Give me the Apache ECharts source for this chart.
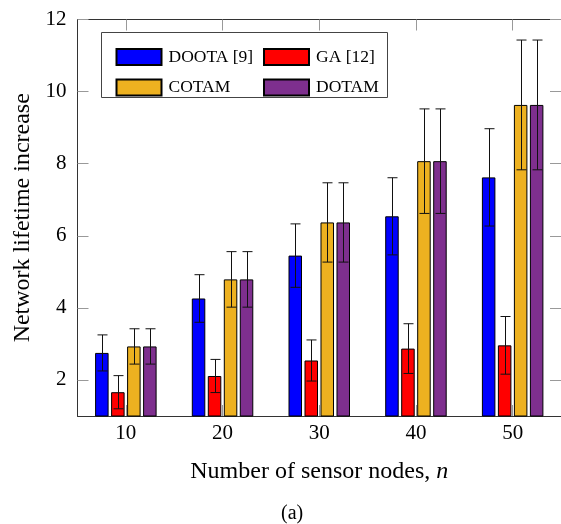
<!DOCTYPE html>
<html>
<head>
<meta charset="utf-8">
<script src="https://cdn.jsdelivr.net/npm/echarts@6/dist/echarts.min.js"></script>
<style>
html,body{margin:0;padding:0;background:#fff;}
#c{width:561px;height:524px;}
</style>
</head>
<body>
<div id="c"></div>
<script>
const categories = [10, 20, 30, 40, 50];
const yTicks = [2, 4, 6, 8, 10, 12];
const seriesNames = ['DOOTA [9]', 'GA [12]', 'COTAM', 'DOTAM'];
const dootaVals = [2.75, 4.26, 5.45, 6.54, 7.62];
const dootaErr  = [0.50, 0.66, 0.88, 1.07, 1.35];
const gaVals    = [1.66, 2.11, 2.54, 2.87, 2.96];
const gaErr     = [0.46, 0.46, 0.57, 0.69, 0.80];
const cotamVals = [2.93, 4.79, 6.37, 8.07, 9.63];
const cotamErr  = [0.49, 0.77, 1.10, 1.45, 1.80];
const dotamVals = [2.93, 4.79, 6.37, 8.07, 9.63];
const dotamErr  = [0.49, 0.77, 1.10, 1.45, 1.80];

const colors = ['#0000ff', '#ff0000', '#edb120', '#7e2f8e'];
const vals = [dootaVals, gaVals, cotamVals, dotamVals];
const errs = [dootaErr, gaErr, cotamErr, dotamErr];

const FONT = 'Liberation Serif';
const BAR_W = 13.5;
const GAP_RATIO = 0.185;
const PITCH = BAR_W * (1 + GAP_RATIO);

const chart = echarts.init(document.getElementById('c'), null, {renderer: 'canvas'});

const series = [];
vals.forEach((v, k) => {
  series.push({
    type: 'bar',
    name: seriesNames[k],
    data: categories.map((c, i) => [c, v[i]]),
    barWidth: BAR_W,
    barGap: (GAP_RATIO * 100) + '%',
    itemStyle: {color: colors[k], borderColor: '#000', borderWidth: 1},
    emphasis: {disabled: true},
    z: 2
  });
});
vals.forEach((v, k) => {
  const off = (k - 1.5) * PITCH;
  series.push({
    type: 'custom',
    data: categories.map((c, i) => [c, v[i], errs[k][i]]),
    z: 5,
    silent: true,
    renderItem: function (params, api) {
      const x = api.value(0), y = api.value(1), e = api.value(2);
      const top = api.coord([x, y + e]);
      const bot = api.coord([x, y - e]);
      const cx = Math.round(top[0] + off) + 0.5;
      const hw = 5;
      const st = {stroke: '#111', lineWidth: 1};
      return {
        type: 'group',
        children: [
          {type: 'line', shape: {x1: cx, y1: top[1], x2: cx, y2: bot[1]}, style: st},
          {type: 'line', shape: {x1: cx - hw, y1: top[1], x2: cx + hw, y2: top[1]}, style: st},
          {type: 'line', shape: {x1: cx - hw, y1: bot[1], x2: cx + hw, y2: bot[1]}, style: st}
        ]
      };
    }
  });
});

const axisLineStyle = {color: '#333', width: 1};
const tickStyle = {color: '#999', width: 1};

const option = {
  animation: false,
  backgroundColor: '#fff',
  textStyle: {fontFamily: FONT},
  title: {
    text: '(a)',
    left: 276,
    top: 499,
    textStyle: {fontFamily: FONT, fontSize: 20, fontWeight: 'normal', color: '#000'}
  },
  grid: {left: 77.5, top: 19.5, right: -3, bottom: 108},
  graphic: [{
    type: 'rect',
    z: 3,
    shape: {x: 101.5, y: 32.5, width: 286, height: 65},
    style: {fill: '#fff', stroke: '#444', lineWidth: 1}
  }],
  legend: [
    {
      data: [seriesNames[0], seriesNames[2]],
      orient: 'vertical',
      left: 110.5, top: 43,
      itemWidth: 45, itemHeight: 16, itemGap: 12.4,
      icon: 'rect', z: 6,
      selectedMode: false,
      textStyle: {fontFamily: FONT, fontSize: 17.5, color: '#000', padding: [0, 0, 0, 2]}
    },
    {
      data: [seriesNames[1], seriesNames[3]],
      orient: 'vertical',
      left: 258, top: 43,
      itemWidth: 45, itemHeight: 16, itemGap: 12.4,
      icon: 'rect', z: 6,
      selectedMode: false,
      textStyle: {fontFamily: FONT, fontSize: 17.5, color: '#000', padding: [0, 0, 0, 2]}
    }
  ],
  xAxis: [
    {
      type: 'value', min: 5, max: 55, position: 'bottom',
      name: 'Number of sensor nodes, {i|n}',
      nameLocation: 'middle', nameGap: 44,
      nameTextStyle: {fontFamily: FONT, fontSize: 24, color: '#000',
        rich: {i: {fontFamily: FONT, fontStyle: 'italic', fontSize: 24, color: '#000'}}},
      axisLine: {show: true, onZero: false, lineStyle: axisLineStyle},
      axisTick: {show: true, inside: true, length: 11, lineStyle: tickStyle, customValues: categories},
      axisLabel: {fontFamily: FONT, fontSize: 21, color: '#000', margin: 7, customValues: categories},
      splitLine: {show: false}
    },
    {
      type: 'value', min: 5, max: 55, position: 'top',
      axisLine: {show: true, onZero: false, lineStyle: axisLineStyle},
      axisTick: {show: true, inside: true, length: 11, lineStyle: tickStyle, customValues: categories},
      axisLabel: {show: false},
      splitLine: {show: false}
    }
  ],
  yAxis: [
    {
      type: 'value', min: 1, max: 12, position: 'left',
      name: 'Network lifetime increase',
      nameLocation: 'middle', nameGap: 40,
      nameTextStyle: {fontFamily: FONT, fontSize: 24, color: '#000'},
      axisLine: {show: true, onZero: false, lineStyle: axisLineStyle},
      axisTick: {show: true, inside: true, length: 11, lineStyle: tickStyle, customValues: yTicks},
      axisLabel: {fontFamily: FONT, fontSize: 21, color: '#000', margin: 11, customValues: yTicks},
      splitLine: {show: false}
    },
    {
      type: 'value', min: 1, max: 12, position: 'right',
      axisLine: {show: true, onZero: false, lineStyle: axisLineStyle},
      axisTick: {show: true, inside: true, length: 11, lineStyle: tickStyle, customValues: yTicks},
      axisLabel: {show: false},
      splitLine: {show: false}
    }
  ],
  series: series
};
chart.setOption(option);
</script>
</body>
</html>
